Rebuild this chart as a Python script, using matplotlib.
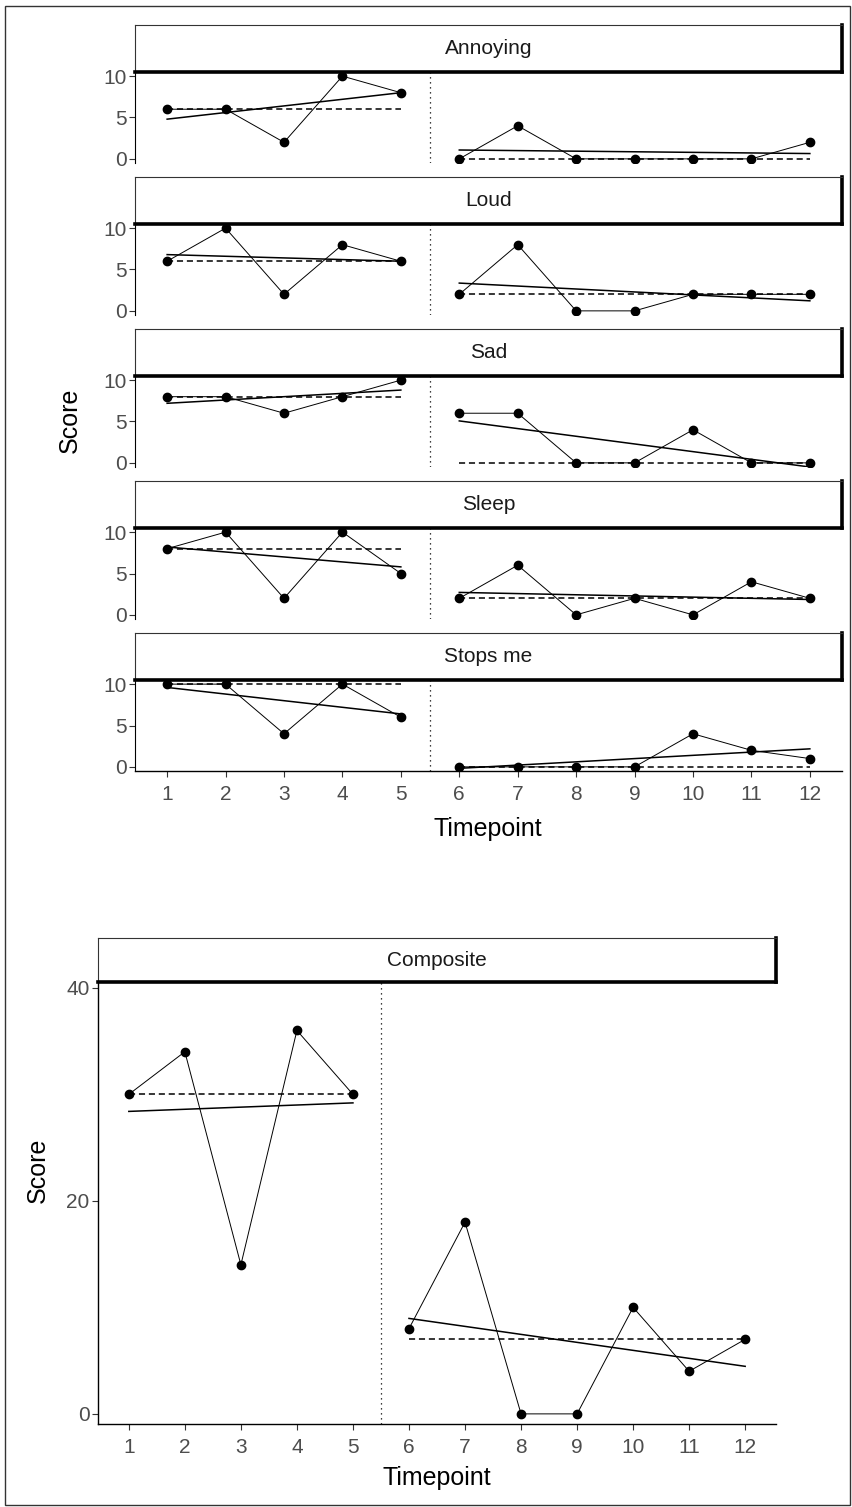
import matplotlib
matplotlib.use('Agg')
import matplotlib.pyplot as plt
import numpy as np
from matplotlib.patches import Rectangle

plt.rcParams['font.family'] = ['Liberation Sans', 'DejaVu Sans']

W, H = 852, 1507

timepoints = np.arange(1, 13)
phase_a = timepoints <= 5
phase_b = timepoints >= 6

items = ['Annoying', 'Loud', 'Sad', 'Sleep', 'Stops me']
annoying = [6, 6, 2, 10, 8, 0, 4, 0, 0, 0, 0, 2]
loud = [6, 10, 2, 8, 6, 2, 8, 0, 0, 2, 2, 2]
sad = [8, 8, 6, 8, 10, 6, 6, 0, 0, 4, 0, 0]
sleep = [8, 10, 2, 10, 5, 2, 6, 0, 2, 0, 4, 2]
stops_me = [10, 10, 4, 10, 6, 0, 0, 0, 0, 4, 2, 1]
composite = [30, 34, 14, 36, 30, 8, 18, 0, 0, 10, 4, 7]

item_scores = [annoying, loud, sad, sleep, stops_me]

TICK_COL = '#4d4d4d'


def px_axes(fig, left, top, right, bottom):
    return fig.add_axes([left / W, 1 - bottom / H, (right - left) / W, (bottom - top) / H])


def draw_strip(fig, left, top, right, bottom, label):
    sax = px_axes(fig, left, top, right, bottom)
    sax.set_xticks([])
    sax.set_yticks([])
    for s in ['top', 'left']:
        sax.spines[s].set_linewidth(0.8)
        sax.spines[s].set_color('#333333')
    for s in ['right', 'bottom']:
        sax.spines[s].set_linewidth(2.6)
        sax.spines[s].set_color('black')
    sax.text(0.5, 0.5, label, ha='center', va='center', fontsize=15,
             color='#1a1a1a', transform=sax.transAxes)


def draw_phases(ax, y):
    y = np.asarray(y, dtype=float)
    for mask in [phase_a, phase_b]:
        x = timepoints[mask]
        yy = y[mask]
        # observed scores
        ax.plot(x, yy, color='black', lw=0.7, zorder=3)
        ax.plot(x, yy, 'o', color='black', ms=6, zorder=4)
        # phase median
        med = np.median(yy)
        ax.plot([x[0], x[-1]], [med, med], color='black', lw=1.1,
                dashes=(4, 2.5), zorder=2)
        # linear trend
        slope, icpt = np.polyfit(x, yy, 1)
        ax.plot([x[0], x[-1]], [icpt + slope * x[0], icpt + slope * x[-1]],
                color='black', lw=1.1, zorder=2)
    ax.axvline(5.5, color='black', lw=0.9, ls=(0, (1, 3)), zorder=1)


fig = plt.figure(figsize=(W / 100, H / 100), dpi=100)

# outer frame
fig.patches.append(Rectangle((5 / W, 1 - 1505 / H), 845 / W, 1499 / H,
                             transform=fig.transFigure, fill=False,
                             lw=1.0, edgecolor='#333333'))

# top block: one facet per item
for i, (name, vals) in enumerate(zip(items, item_scores)):
    off = 152 * i
    ax = px_axes(fig, 135, 72 + off, 842, 163 + off)
    draw_strip(fig, 135, 25 + off, 842, 72 + off, name)
    draw_phases(ax, vals)
    ax.set_xlim(0.45, 12.55)
    ax.set_ylim(-0.5, 10.5)
    ax.set_yticks([0, 5, 10])
    for s in ['top', 'right']:
        ax.spines[s].set_visible(False)
    ax.spines['left'].set_linewidth(0.8)
    ax.tick_params(axis='y', length=4, width=0.8, color='#333333',
                   labelsize=15, labelcolor=TICK_COL, pad=2)
    if i == len(items) - 1:
        ax.spines['bottom'].set_linewidth(1.0)
        ax.set_xticks(timepoints)
        ax.tick_params(axis='x', length=4, width=0.8, color='#333333',
                       labelsize=15, labelcolor=TICK_COL, pad=6)
    else:
        ax.spines['bottom'].set_visible(False)
        ax.set_xticks([])

fig.text(488 / W, 1 - 829 / H, 'Timepoint', ha='center', va='center', fontsize=18)
fig.text(70 / W, 1 - 420 / H, 'Score', ha='center', va='center', fontsize=18,
         rotation=90)

# bottom block: composite score
ax = px_axes(fig, 98, 982, 776, 1424)
draw_strip(fig, 98, 938, 776, 982, 'Composite')
draw_phases(ax, composite)
ax.set_xlim(0.45, 12.55)
ax.set_ylim(-0.95, 40.55)
ax.set_yticks([0, 20, 40])
ax.set_xticks(timepoints)
for s in ['top', 'right']:
    ax.spines[s].set_visible(False)
ax.spines['left'].set_linewidth(1.0)
ax.spines['bottom'].set_linewidth(1.0)
ax.tick_params(length=4, width=0.8, color='#333333', labelsize=15,
               labelcolor=TICK_COL)
ax.tick_params(axis='x', pad=6)
ax.tick_params(axis='y', pad=2)

fig.text(437 / W, 1 - 1478 / H, 'Timepoint', ha='center', va='center', fontsize=18)
fig.text(38 / W, 1 - 1170 / H, 'Score', ha='center', va='center', fontsize=18,
         rotation=90)

fig.savefig('out.png', dpi=100)
